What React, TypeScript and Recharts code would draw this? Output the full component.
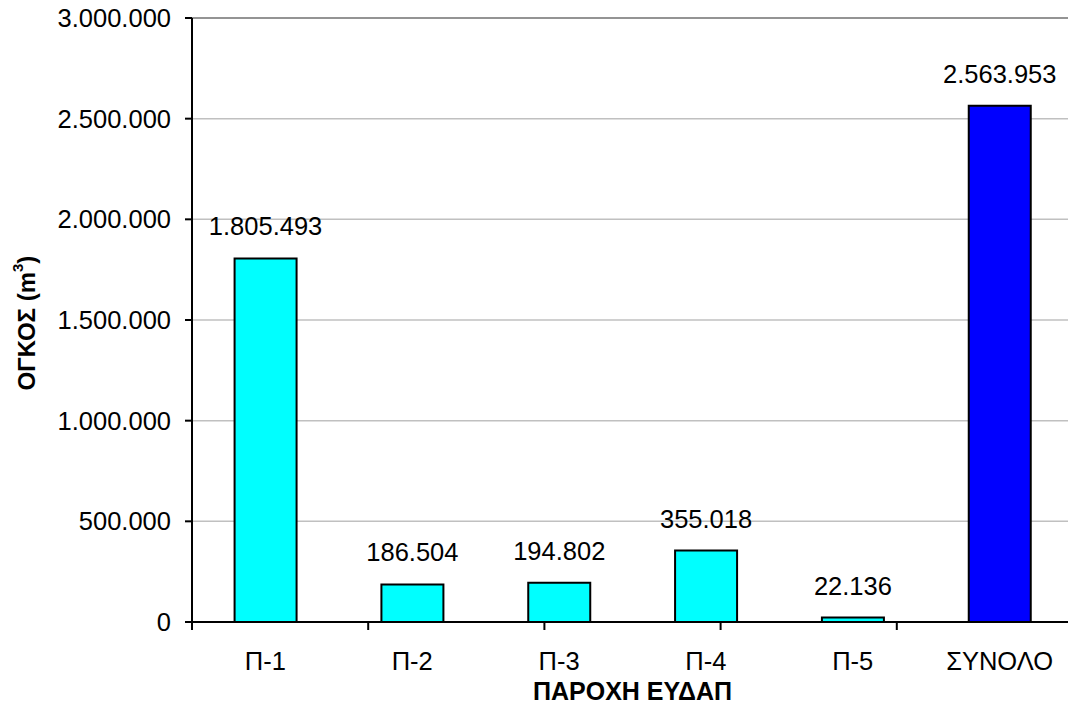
import React from "react";
import {
  BarChart,
  Bar,
  XAxis,
  YAxis,
  CartesianGrid,
  Cell,
  LabelList,
  Label,
  ReferenceLine,
} from "recharts";

const categories = ["Π-1", "Π-2", "Π-3", "Π-4", "Π-5", "ΣΥΝΟΛΟ"];
const volumes = [1805493, 186504, 194802, 355018, 22136, 2563953];
const yTicks = [0, 500000, 1000000, 1500000, 2000000, 2500000, 3000000];
const edgeTicks = [0, 1, 2, 3, 4, 5, 6];

const data = categories.map((name, i) => ({ name, value: volumes[i] }));

const FONT = "'Liberation Sans', Arial, sans-serif";
const fmt = (v: number) => String(v).replace(/\B(?=(\d{3})+(?!\d))/g, ".");

export default function App() {
  return (
    <div
      style={{
        position: "fixed",
        left: 0,
        top: 0,
        width: 1068,
        height: 704,
        overflow: "hidden",
        background: "#fff",
      }}
    >
      <BarChart
        width={1080}
        height={704}
        data={data}
        margin={{ top: 18, right: 7, left: 0, bottom: 80 }}
        barCategoryGap="29%"
        style={{ fontFamily: FONT }}
      >
        <CartesianGrid vertical={false} stroke="#c0c0c0" strokeWidth={1.5} />
        <ReferenceLine y={3000000} stroke="#808080" strokeWidth={1.5} />
        <XAxis
          dataKey="name"
          height={1}
          tickLine={false}
          tickSize={0}
          tickMargin={30}
          axisLine={{ stroke: "#000", strokeWidth: 2 }}
          tick={{ fill: "#000", fontSize: 25.5, fontFamily: FONT }}
        >
          <Label
            content={({ viewBox }: any) => (
              <text
                x={viewBox.x + viewBox.width / 2}
                y={700}
                textAnchor="middle"
                fontSize={25}
                fontWeight="bold"
                fontFamily={FONT}
                fill="#000"
              >
                ΠΑΡΟΧΗ ΕΥΔΑΠ
              </text>
            )}
          />
        </XAxis>
        <XAxis
          xAxisId="edges"
          type="number"
          domain={[0, 6]}
          ticks={edgeTicks}
          height={1}
          axisLine={false}
          tickSize={7}
          tickLine={{ stroke: "#000", strokeWidth: 2 }}
          tickFormatter={() => ""}
        />
        <YAxis
          width={192}
          domain={[0, 3000000]}
          ticks={yTicks}
          tickFormatter={fmt}
          tickSize={7}
          tickMargin={14}
          axisLine={{ stroke: "#000", strokeWidth: 2 }}
          tickLine={{ stroke: "#000", strokeWidth: 2 }}
          tick={{ fill: "#000", fontSize: 25.5, fontFamily: FONT }}
        >
          <Label
            content={() => (
              <text
                x={26}
                y={323}
                transform="rotate(-90 26 323)"
                textAnchor="middle"
                dominantBaseline="central"
                fontSize={24}
                fontWeight="bold"
                fontFamily={FONT}
                fill="#000"
              >
                ΟΓΚΟΣ (m<tspan fontSize={15} dy={-9}>3</tspan><tspan dy={9}>)</tspan>
              </text>
            )}
          />
        </YAxis>
        <Bar dataKey="value" stroke="#000" strokeWidth={2} isAnimationActive={false}>
          {data.map((d) => (
            <Cell key={d.name} fill={d.name === "ΣΥΝΟΛΟ" ? "#0000FF" : "#00FFFF"} />
          ))}
          <LabelList
            dataKey="value"
            position="top"
            offset={23}
            formatter={(v: any) => fmt(Number(v))}
            style={{ fill: "#000", fontSize: 25.5, fontFamily: FONT }}
          />
        </Bar>
      </BarChart>
    </div>
  );
}
